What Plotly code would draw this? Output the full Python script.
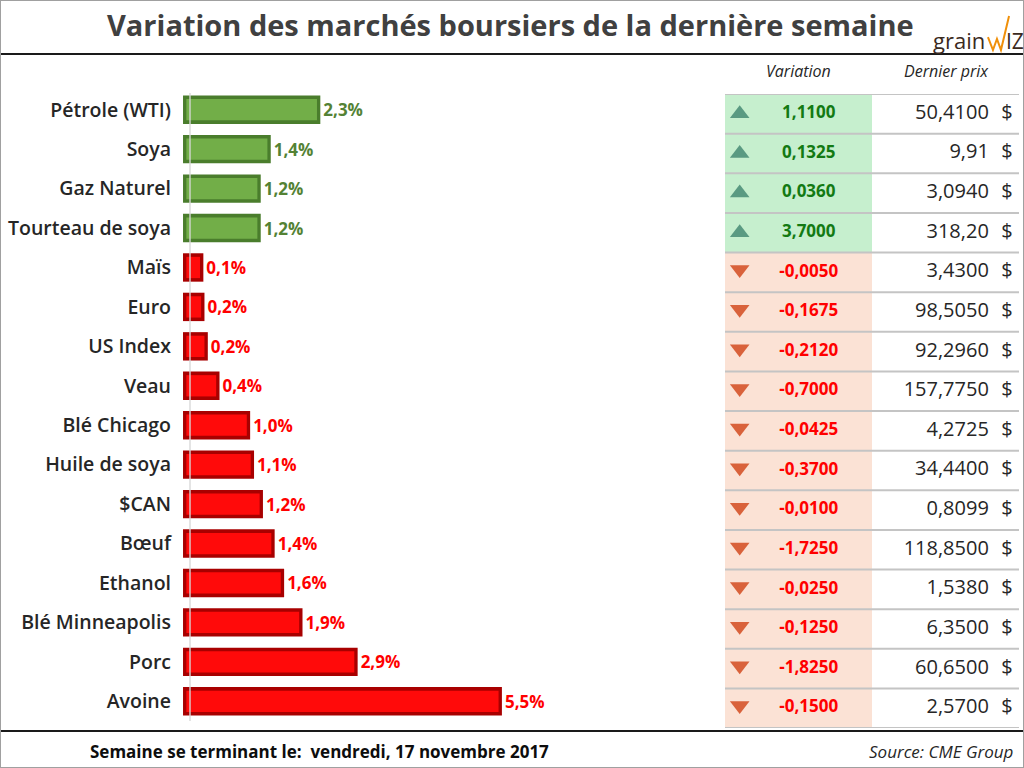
import plotly.graph_objects as go

# ---------------- data ----------------
categories = ["Pétrole (WTI)", "Soya", "Gaz Naturel", "Tourteau de soya", "Maïs", "Euro",
              "US Index", "Veau", "Blé Chicago", "Huile de soya", "$CAN", "Bœuf",
              "Ethanol", "Blé Minneapolis", "Porc", "Avoine"]
pct_change = [2.25, 1.36, 1.18, 1.18, 0.15, 0.17, 0.23, 0.44, 0.99, 1.06, 1.22, 1.43,
              1.60, 1.93, 2.92, 5.51]
pct_labels = ["2,3%", "1,4%", "1,2%", "1,2%", "0,1%", "0,2%", "0,2%", "0,4%", "1,0%",
              "1,1%", "1,2%", "1,4%", "1,6%", "1,9%", "2,9%", "5,5%"]
variation = ["1,1100", "0,1325", "0,0360", "3,7000", "-0,0050", "-0,1675", "-0,2120",
             "-0,7000", "-0,0425", "-0,3700", "-0,0100", "-1,7250", "-0,0250",
             "-0,1250", "-1,8250", "-0,1500"]
last_price = ["50,4100", "9,91", "3,0940", "318,20", "3,4300", "98,5050", "92,2960",
              "157,7750", "4,2725", "34,4400", "0,8099", "118,8500", "1,5380",
              "6,3500", "60,6500", "2,5700"]
title_text = "Variation des marchés boursiers de la dernière semaine"
footer_text = "Semaine se terminant le:  vendredi, 17 novembre 2017"
source_text = "Source: CME Group"
col_headers = ["Variation", "Dernier prix"]

# ---------------- helpers ----------------
W, H = 1024, 768
def px(x):
    return x / W
def py(y):
    return 1 - y / H

up = [not v.startswith("-") for v in variation]
FONT = "Open Sans"
DARK = "#262626"

bar_base = -0.215
bar_len = [v - bar_base for v in pct_change]
edge_cols = ["#4a7d2c" if u else "#a80000" for u in up]
face_cols = ["#72ae48" if u else "#ff0a0a" for u in up]
label_cols = ["#548235" if u else "#ff0000" for u in up]

fig = go.Figure()

# bars: dark edge + lighter face (bevel look)
fig.add_trace(go.Bar(
    y=categories, x=bar_len, base=bar_base, orientation="h", width=0.72,
    marker=dict(color=edge_cols, line=dict(width=0)),
    text=pct_labels, textposition="outside", cliponaxis=False,
    textfont=dict(family=FONT, size=17, color=label_cols, weight="bold"),
    hoverinfo="skip", showlegend=False))
inset = 0.06
fig.add_trace(go.Bar(
    y=categories, x=[l - 2 * inset for l in bar_len], base=bar_base + inset,
    orientation="h", width=0.54,
    marker=dict(color=face_cols, line=dict(width=0)),
    hoverinfo="skip", showlegend=False))

# table cells
rows = list(range(len(categories)))
cell_cols = ["#c6efce" if u else "#fbe2d5" for u in up]
fig.add_trace(go.Bar(
    y=rows, x=[1] * len(rows), base=0, orientation="h", width=1,
    marker=dict(color=cell_cols, line=dict(width=0)),
    xaxis="x2", yaxis="y2", hoverinfo="skip", showlegend=False))
tri_shift = 0.07  # centre the down-triangle glyph box on the row
fig.add_trace(go.Scatter(
    x=[0.1] * len(rows), y=[r if u else r - tri_shift for r, u in zip(rows, up)],
    mode="markers",
    marker=dict(symbol=["triangle-up" if u else "triangle-down" for u in up],
                size=17, color=["#5a9a82" if u else "#d9623b" for u in up]),
    xaxis="x2", yaxis="y2", hoverinfo="skip", showlegend=False))
fig.add_trace(go.Scatter(
    x=[0.57] * len(rows), y=rows, mode="text", text=variation,
    textposition="middle center",
    textfont=dict(family=FONT, size=17, weight="bold",
                  color=["#137a13" if u else "#ff0000" for u in up]),
    xaxis="x2", yaxis="y2", hoverinfo="skip", showlegend=False))
fig.add_trace(go.Scatter(
    x=[1.795] * len(rows), y=rows, mode="text", text=last_price,
    textposition="middle left",
    textfont=dict(family=FONT, size=20, color=DARK),
    xaxis="x2", yaxis="y2", hoverinfo="skip", showlegend=False))
fig.add_trace(go.Scatter(
    x=[1.918] * len(rows), y=rows, mode="text", text=["$"] * len(rows),
    textposition="middle center",
    textfont=dict(family=FONT, size=20, color=DARK),
    xaxis="x2", yaxis="y2", hoverinfo="skip", showlegend=False))

shapes = []
# row separators of the table
for i in range(len(rows) + 1):
    shapes.append(dict(type="line", xref="x2", yref="y2", x0=0, x1=2,
                       y0=i - 0.5, y1=i - 0.5, line=dict(color="#c4c4c4", width=2)))
# thin vertical axis line
shapes.append(dict(type="line", xref="paper", yref="paper", x0=px(190), x1=px(190),
                   y0=py(93), y1=py(721), line=dict(color="rgba(215,215,215,0.9)", width=1.5),
                   layer="above"))
# title & footer rules
shapes.append(dict(type="line", xref="paper", yref="paper", x0=0, x1=1, y0=py(54), y1=py(54),
                   line=dict(color="#1a1a1a", width=2)))
shapes.append(dict(type="line", xref="paper", yref="paper", x0=0, x1=1, y0=py(731), y1=py(731),
                   line=dict(color="#1a1a1a", width=2)))
# outer border
shapes.append(dict(type="rect", xref="paper", yref="paper", x0=0, x1=1, y0=0, y1=1,
                   line=dict(color="#a0a0a0", width=2)))
# logo zigzag
zz = [(988, 37), (993, 50), (997, 39), (1001, 50), (1009, 16)]
path = "M " + " L ".join(f"{px(a):.4f},{py(b):.4f}" for a, b in zz)
shapes.append(dict(type="path", xref="paper", yref="paper", path=path,
                   line=dict(color="#f0900a", width=2)))

annotations = [
    dict(text=f"<b>{title_text}</b>", x=px(510), y=py(24), xref="paper", yref="paper",
         showarrow=False, font=dict(family=FONT, size=29, color="#404040"),
         xanchor="center", yanchor="middle"),
    dict(text="grain", x=px(987), y=py(40), xref="paper", yref="paper", showarrow=False,
         font=dict(family="Open Sans", size=22, color="#3b2a1e"), xanchor="right", yanchor="middle"),
    dict(text="IZ", x=px(1004), y=py(41), xref="paper", yref="paper", showarrow=False,
         font=dict(family="Open Sans", size=21, color="#3b2a1e"), xanchor="left", yanchor="middle"),
    dict(text=f"<i>{col_headers[0]}</i>", x=px(798), y=py(71), xref="paper", yref="paper",
         showarrow=False, font=dict(family=FONT, size=16, color=DARK), xanchor="center", yanchor="middle"),
    dict(text=f"<i>{col_headers[1]}</i>", x=px(946), y=py(71), xref="paper", yref="paper",
         showarrow=False, font=dict(family=FONT, size=16, color=DARK), xanchor="center", yanchor="middle"),
    dict(text=f"<b>{footer_text}</b>", x=px(319), y=py(751), xref="paper", yref="paper",
         showarrow=False, font=dict(family=FONT, size=17, color="#0d0d0d"), xanchor="center", yanchor="middle"),
    dict(text=f"<i>{source_text}</i>", x=px(1015), y=py(751), xref="paper", yref="paper",
         showarrow=False, font=dict(family=FONT, size=17, color=DARK), xanchor="right", yanchor="middle"),
]

x_left, x_right = 180, 560
zero_px, scale = 195, 55.7
fig.update_layout(
    width=W, height=H, margin=dict(l=0, r=0, t=0, b=0),
    paper_bgcolor="white", plot_bgcolor="rgba(0,0,0,0)",
    barmode="overlay", bargap=0.28, showlegend=False,
    xaxis=dict(domain=[px(x_left), px(x_right)],
               range=[(x_left - zero_px) / scale, (x_right - zero_px) / scale],
               showgrid=False, zeroline=False, showticklabels=False, showline=False),
    yaxis=dict(domain=[py(721), py(90)], autorange="reversed", showgrid=False,
               zeroline=False, showline=False, ticks="", ticklabelstandoff=8,
               tickfont=dict(family=FONT, size=19.5, color=DARK, weight=600)),
    xaxis2=dict(domain=[px(725), px(1019)], range=[0, 2], showgrid=False, zeroline=False,
                showticklabels=False, anchor="y2"),
    yaxis2=dict(domain=[py(728), py(94)], range=[15.5, -0.5], showgrid=False, zeroline=False,
                showticklabels=False, anchor="x2"),
    shapes=shapes, annotations=annotations,
)

fig.write_html("out.html", config={"displayModeBar": False},
               post_script="document.body.style.margin='0px';document.body.style.overflow='hidden';")
